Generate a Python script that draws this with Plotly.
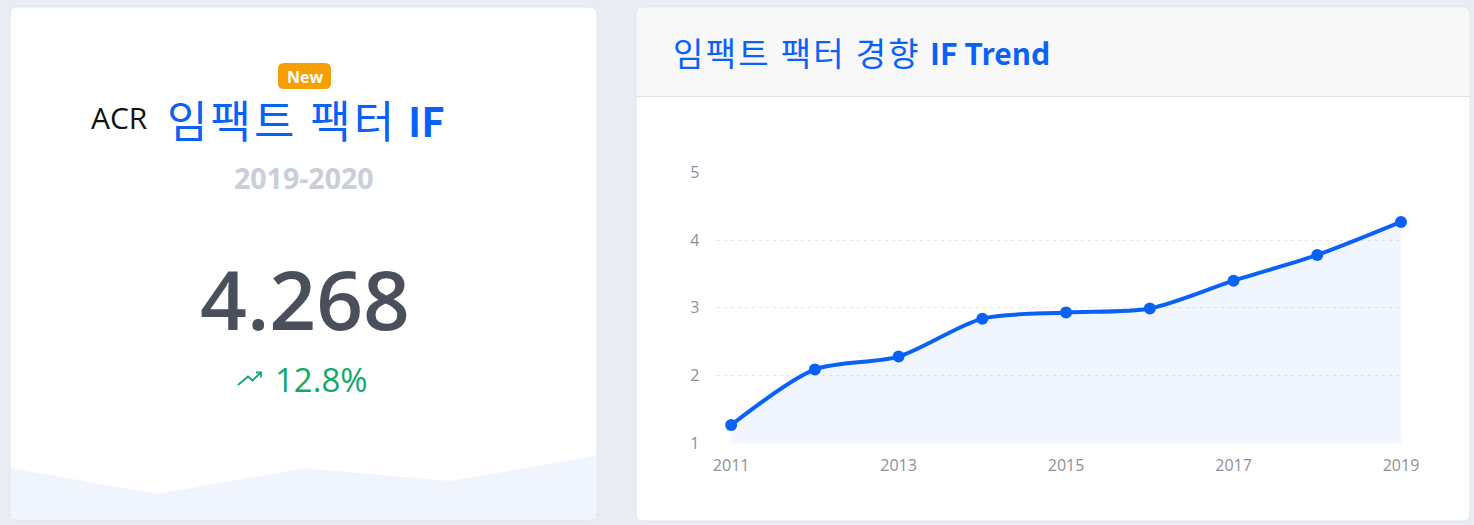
import plotly.graph_objects as go

# ---------------- data ----------------
years = [2011, 2012, 2013, 2014, 2015, 2016, 2017, 2018, 2019]
impact_factor = [1.27, 2.09, 2.28, 2.84, 2.93, 2.99, 3.40, 3.78, 4.268]
x_tick_vals = [2011, 2013, 2015, 2017, 2019]
y_tick_vals = [1, 2, 3, 4, 5]
spark_x = [0, 1, 2, 3, 4]
spark_values = [4, 2, 4, 3, 5]

journal = "ACR"
title_kr = "임팩트 팩터"
title_en = "IF"
period = "2019-2020"
current_if = "4.268"
change_pct = "12.8%"
trend_title_kr = "임팩트 팩터 경향"
trend_title_en = "IF Trend"

# ---------------- layout helpers ----------------
W, H = 1474, 525


def px(x):
    return x / W


def py(y):
    return 1 - y / H


def rrect(x0, y0, x1, y1, r, top=True, bottom=True):
    rx, ry = r / W, r / H
    X0, X1 = px(x0), px(x1)
    Y0, Y1 = py(y0), py(y1)  # Y0 is top (larger)
    p = []
    if top:
        p.append(f"M {X0},{Y0 - ry}")
        p.append(f"Q {X0},{Y0} {X0 + rx},{Y0}")
        p.append(f"L {X1 - rx},{Y0}")
        p.append(f"Q {X1},{Y0} {X1},{Y0 - ry}")
    else:
        p.append(f"M {X0},{Y0}")
        p.append(f"L {X1},{Y0}")
    if bottom:
        p.append(f"L {X1},{Y1 + ry}")
        p.append(f"Q {X1},{Y1} {X1 - rx},{Y1}")
        p.append(f"L {X0 + rx},{Y1}")
        p.append(f"Q {X0},{Y1} {X0},{Y1 + ry}")
    else:
        p.append(f"L {X1},{Y1}")
        p.append(f"L {X0},{Y1}")
    p.append("Z")
    return " ".join(p)


BLUE = "#0a62f5"
PAGE_BG = "#e9ecf2"
CJK = "Noto Sans CJK KR"
SANS = "Open Sans"
TICK = "#8c909a"

fig = go.Figure()

# sparkline in left card
fig.add_trace(go.Scatter(
    x=spark_x, y=spark_values, mode="lines", fill="tozeroy",
    line=dict(width=0, color="#f0f4fc"), fillcolor="#f0f4fc",
    xaxis="x2", yaxis="y2", hoverinfo="skip", showlegend=False,
))

# trend line
fig.add_trace(go.Scatter(
    x=years, y=impact_factor, mode="lines+markers", fill="tozeroy",
    fillcolor="rgba(10,98,245,0.06)",
    line=dict(color=BLUE, width=4, shape="spline", smoothing=0.8),
    marker=dict(size=12, color=BLUE),
    cliponaxis=False, hoverinfo="skip", showlegend=False,
))

shapes = [
    # left card
    dict(type="path", path=rrect(10, 7, 597, 520, 7), xref="paper", yref="paper",
         fillcolor="white", line=dict(color="#e1e4ea", width=1), layer="below"),
    # right card
    dict(type="path", path=rrect(636, 7, 1470, 521, 7), xref="paper", yref="paper",
         fillcolor="white", line=dict(color="#e1e4ea", width=1), layer="below"),
    # right card header
    dict(type="path", path=rrect(637, 8, 1469, 96, 6, top=True, bottom=False), xref="paper",
         yref="paper", fillcolor="#f8f8f9", line=dict(width=0), layer="below"),
    dict(type="line", x0=px(636), x1=px(1470), y0=py(96.5), y1=py(96.5), xref="paper",
         yref="paper", line=dict(color="#dedfe2", width=1.2), layer="below"),
    # New badge
    dict(type="path", path=rrect(278, 63, 331, 89, 6), xref="paper", yref="paper",
         fillcolor="#f5a000", line=dict(width=0), layer="above"),
    # trending-up icon
    dict(type="path", xref="paper", yref="paper",
         path=(f"M {px(238)},{py(385)} L {px(248)},{py(376.5)} L {px(252.5)},{py(380.5)} "
               f"L {px(261)},{py(372.5)}"),
         line=dict(color="#0fa968", width=1.8), layer="above"),
    dict(type="path", xref="paper", yref="paper",
         path=(f"M {px(256)},{py(372.5)} L {px(261)},{py(372.5)} L {px(261)},{py(377.5)}"),
         line=dict(color="#0fa968", width=1.8), layer="above"),
]

annotations = [
    dict(text="New", x=px(304.5), y=py(77), font=dict(family=SANS, size=16, color="white", weight=700)),
    dict(text=journal, x=px(150), y=py(118), xanchor="right",
         font=dict(family=SANS, size=30, color="#111111")),
    dict(text=f"<span style='letter-spacing:3px'>{title_kr}</span>", x=px(165), y=py(119),
         xanchor="left", font=dict(family=CJK, size=44, color=BLUE)),
    dict(text=f"<b>{title_en}</b>", x=px(447), y=py(120), xanchor="right",
         font=dict(family=CJK, size=40, color=BLUE)),
    dict(text=f"<b>{period}</b>", x=px(304), y=py(178),
         font=dict(family=SANS, size=28.5, color="#c9ced7")),
    dict(text=current_if, x=px(305), y=py(298),
         font=dict(family=SANS, size=82, color="#4a505b", weight=600)),
    dict(text=change_pct, x=px(273), y=py(379), xanchor="left",
         font=dict(family=SANS, size=33, color="#0fa968")),
    dict(text=f"<span style='letter-spacing:2.3px'>{trend_title_kr}</span>", x=px(671),
         y=py(52), xanchor="left", font=dict(family=CJK, size=33, color=BLUE)),
    dict(text=f"<b>{trend_title_en}</b>", x=px(1052), y=py(52.5), xanchor="right",
         font=dict(family=CJK, size=30, color=BLUE)),
]
for a in annotations:
    a.update(xref="paper", yref="paper", showarrow=False)
    a.setdefault("xanchor", "center")
    a.setdefault("yanchor", "middle")

fig.update_layout(
    width=W, height=H,
    margin=dict(l=0, r=0, t=0, b=0, pad=0, autoexpand=False),
    paper_bgcolor=PAGE_BG, plot_bgcolor="rgba(0,0,0,0)",
    shapes=shapes, annotations=annotations,
    xaxis=dict(domain=[px(716.5), px(1401)], range=[2010.825, 2019], automargin=False,
               tickvals=x_tick_vals, showgrid=False, zeroline=False, showline=False,
               ticks="", ticklabelstandoff=11,
               tickfont=dict(family=SANS, size=16, color=TICK), fixedrange=True),
    yaxis=dict(domain=[py(443.3), py(172.3)], range=[1, 5], tickvals=y_tick_vals,
               automargin=False,
               showgrid=True, gridcolor="#e3e6eb", griddash="3px,4px", gridwidth=1,
               zeroline=False, showline=False, ticks="", ticklabelstandoff=16,
               tickfont=dict(family=SANS, size=16, color=TICK), fixedrange=True),
    xaxis2=dict(domain=[px(11), px(596.5)], range=[0, 4], visible=False, anchor="y2",
                automargin=False, fixedrange=True),
    yaxis2=dict(domain=[py(519.5), py(455.5)], range=[0, 5], visible=False, anchor="x2",
                automargin=False, fixedrange=True),
    hovermode=False,
)

fig.write_html(
    "out.html",
    config={"displayModeBar": False, "staticPlot": True},
    post_script="document.body.style.margin='0';document.body.style.overflow='hidden';"
                "document.body.style.background='%s';" % PAGE_BG,
)
